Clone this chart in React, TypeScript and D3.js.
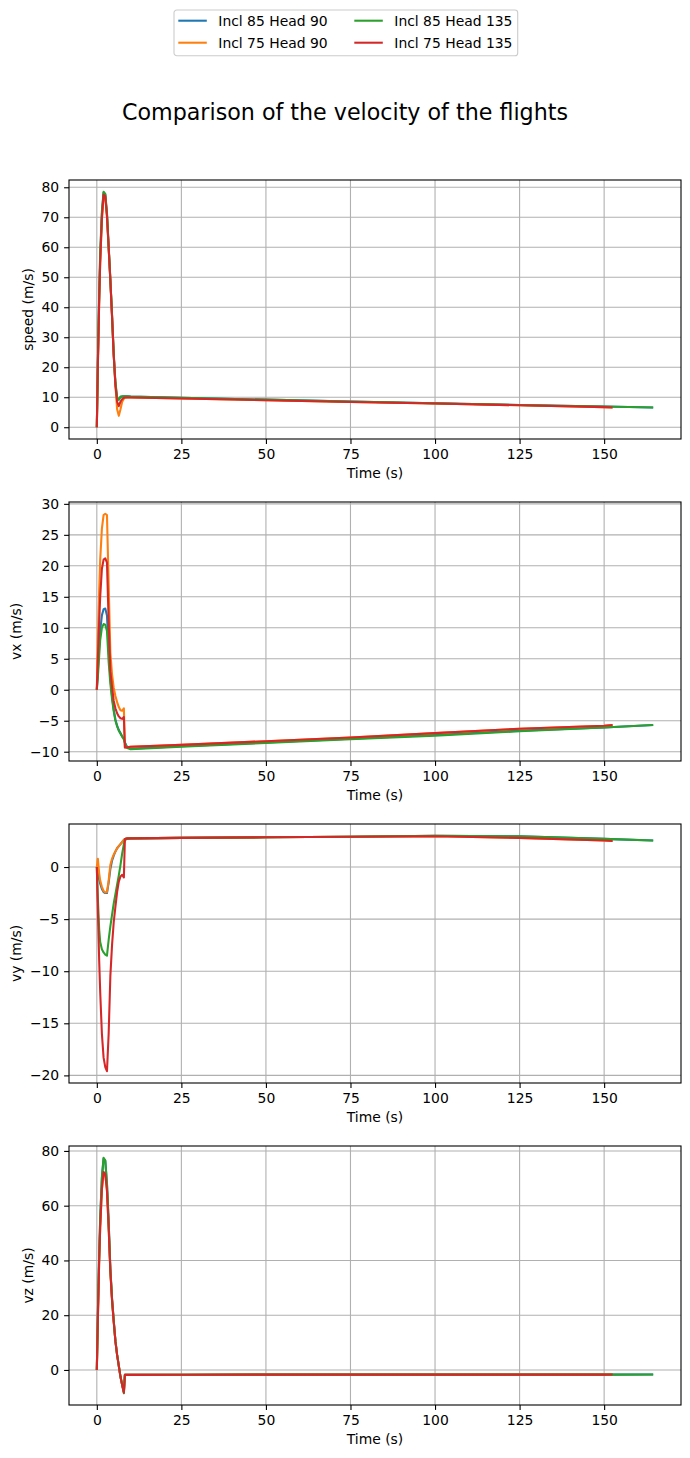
import { useEffect, useRef } from "react";
import * as d3 from "d3";

// Sample times (s): the Incl 85 flights last longer than the Incl 75 ones
const TIME_85 = [0, 0.3, 0.7, 1, 1.5, 2, 2.5, 3, 3.5, 4, 4.5, 5, 5.5, 6, 6.5, 7, 7.5, 8, 8.3, 9, 10, 25, 50, 75, 100, 125, 150, 164.5];
const TIME_75 = [0, 0.3, 0.7, 1, 1.5, 2, 2.5, 3, 3.5, 4, 4.5, 5, 5.5, 6, 6.5, 7, 7.5, 8, 8.3, 9, 10, 25, 50, 75, 100, 125, 150, 152.5];

const SERIES = ["Incl 85 Head 90", "Incl 75 Head 90", "Incl 85 Head 135", "Incl 75 Head 135"];
const COLORS = ["#1f77b4", "#ff7f0e", "#2ca02c", "#d62728"];

// speed (m/s)
const SPEED_85_90 = [0, 21, 44, 57, 71, 78.2, 77.6, 71, 60, 49, 37, 24, 14.5, 9.5, 9.2, 10, 10.2, 10.3, 10.3, 10.3, 10.2, 9.8, 9.2, 8.6, 8.0, 7.4, 6.9, 6.6];
const SPEED_75_90 = [0, 20, 42, 55, 69.5, 77, 76.5, 70, 59.5, 49, 37, 24, 14, 6, 3.8, 6, 8.5, 9.5, 9.8, 9.9, 9.9, 9.6, 9.0, 8.4, 7.9, 7.3, 6.7, 6.6];
const SPEED_85_135 = [0, 21.5, 45, 58, 72, 78.5, 77.8, 71.5, 60.5, 49.5, 37.5, 24.5, 15, 10, 9.2, 10.2, 10.3, 10.3, 10.3, 10.3, 10.2, 9.8, 9.2, 8.6, 8.0, 7.4, 6.9, 6.6];
const SPEED_75_135 = [0, 20, 42, 55, 69.5, 77.5, 77, 70.5, 60, 49, 37, 24, 14, 8.5, 7, 8.5, 9.4, 9.8, 9.9, 9.9, 9.9, 9.6, 9.0, 8.4, 7.9, 7.3, 6.7, 6.6];

// vx (m/s)
const VX_85_90 = [0, 3, 7, 9.5, 12, 13, 13.1, 12, 6.5, 2, -1, -3.2, -4.8, -5.8, -6.5, -7, -7.5, -7.9, -8.5, -9.3, -9.5, -9.1, -8.5, -7.9, -7.3, -6.6, -6.1, -5.7];
const VX_75_90 = [0, 8, 16, 21, 26, 28.2, 28.4, 28.2, 17, 6, 2.5, 0.3, -1, -2, -2.8, -3.3, -3.4, -3.0, -9.3, -9.3, -9.2, -8.9, -8.3, -7.7, -7.0, -6.3, -5.8, -5.7];
const VX_85_135 = [0, 2, 5.5, 8, 10, 10.6, 10.5, 9.5, 4.5, 1, -1.5, -3.5, -5, -5.9, -6.6, -7.1, -7.6, -8, -8.6, -9.4, -9.6, -9.2, -8.6, -8.0, -7.4, -6.7, -6.1, -5.7];
const VX_75_135 = [0, 5, 11, 15, 19.5, 21, 21.2, 20.5, 11, 3, 0.5, -1.8, -3, -3.8, -4.3, -4.6, -4.7, -4.4, -9.3, -9.3, -9.2, -8.9, -8.3, -7.7, -7.0, -6.3, -5.8, -5.7];

// vy (m/s)
const VY_85_90 = [0, -0.5, -1.2, -1.6, -2.1, -2.4, -2.5, -2.5, -1.5, -0.2, 0.6, 1.1, 1.5, 1.8, 2.0, 2.2, 2.4, 2.6, 2.7, 2.75, 2.75, 2.8, 2.85, 2.9, 3.0, 2.95, 2.7, 2.55];
const VY_75_90 = [0, 0.8, -0.6, -1.3, -1.9, -2.3, -2.45, -2.4, -1.3, 0.2, 0.8, 1.2, 1.5, 1.8, 2.0, 2.2, 2.4, 2.6, 2.7, 2.75, 2.75, 2.8, 2.85, 2.9, 2.95, 2.8, 2.55, 2.5];
const VY_85_135 = [0, -3, -6, -7.2, -7.9, -8.2, -8.4, -8.5, -7.0, -5.7, -4.6, -3.5, -2.6, -1.7, -0.8, 0.2, 1.3, 2.2, 2.6, 2.7, 2.75, 2.8, 2.85, 2.9, 3.0, 2.95, 2.7, 2.55];
const VY_75_135 = [0, -4, -9, -12, -16, -18.3, -19.2, -19.6, -16, -10.5, -7.5, -5.3, -3.8, -2.4, -1.4, -0.9, -0.75, -1.0, 2.7, 2.75, 2.75, 2.8, 2.85, 2.9, 2.95, 2.8, 2.55, 2.5];

// vz (m/s)
const VZ_85_90 = [0, 20, 42, 55, 70, 77.2, 76.4, 68, 54, 37, 26, 18, 10.5, 5.5, 1.5, -2.5, -5.5, -8.0, -1.8, -1.8, -1.8, -1.75, -1.7, -1.7, -1.7, -1.7, -1.7, -1.65];
const VZ_75_90 = [0, 18, 40, 52, 66, 72, 71.5, 65.5, 52, 36, 25.5, 17.5, 10.5, 5.5, 1.5, -2.5, -5.5, -8.0, -1.8, -1.8, -1.8, -1.75, -1.7, -1.7, -1.7, -1.7, -1.7, -1.65];
const VZ_85_135 = [0, 20.5, 42.5, 55.5, 70.5, 77.5, 76.6, 68, 54, 37, 26, 18, 10.5, 5.5, 1.5, -2.5, -5.5, -8.5, -1.8, -1.8, -1.8, -1.75, -1.7, -1.7, -1.7, -1.7, -1.7, -1.65];
const VZ_75_135 = [0, 18, 40, 52, 66, 72.3, 71.5, 65.5, 52, 36, 25.5, 17.5, 10.5, 5.5, 1.5, -2.5, -5.5, -8.3, -1.8, -1.8, -1.8, -1.75, -1.7, -1.7, -1.7, -1.7, -1.7, -1.65];

const X_TICKS = [0, 25, 50, 75, 100, 125, 150];
const SPEED_TICKS = [0, 10, 20, 30, 40, 50, 60, 70, 80];
const VX_TICKS = [-10, -5, 0, 5, 10, 15, 20, 25, 30];
const VY_TICKS = [-20, -15, -10, -5, 0];
const VZ_TICKS = [0, 20, 40, 60, 80];

const TITLE = "Comparison of the velocity of the flights";
const X_LABEL = "Time (s)";

const PANELS = [
  { label: "speed (m/s)", ticks: SPEED_TICKS, series: [SPEED_85_90, SPEED_75_90, SPEED_85_135, SPEED_75_135] },
  { label: "vx (m/s)", ticks: VX_TICKS, series: [VX_85_90, VX_75_90, VX_85_135, VX_75_135] },
  { label: "vy (m/s)", ticks: VY_TICKS, series: [VY_85_90, VY_75_90, VY_85_135, VY_75_135] },
  { label: "vz (m/s)", ticks: VZ_TICKS, series: [VZ_85_90, VZ_75_90, VZ_85_135, VZ_75_135] },
];

const W = 690;
const H = 1458;
const FONT = "DejaVu Sans, sans-serif";
const FS = 13.9;
const LEFT = 69;
const PLOT_W = 612;
const PLOT_H = 259;
const TOPS = [180, 502, 824, 1146];
const TICK = 4.9;
const LW = 1.1;

export default function App() {
  const svgRef = useRef<SVGSVGElement>(null);

  useEffect(() => {
    if (!svgRef.current) return;
    const svg = d3.select(svgRef.current);
    svg.selectAll("*").remove();

    const times = [TIME_85, TIME_75, TIME_85, TIME_75];
    const [t0, t1] = d3.extent(times.flat()) as [number, number];
    const tpad = (t1 - t0) * 0.05;
    const x = d3.scaleLinear().domain([t0 - tpad, t1 + tpad]).range([0, PLOT_W]);

    // Title
    svg
      .append("text")
      .attr("x", W / 2)
      .attr("y", 120)
      .attr("text-anchor", "middle")
      .attr("font-family", FONT)
      .attr("font-size", 22.2)
      .text(TITLE);

    // Legend
    const lg = svg.append("g").attr("transform", "translate(174,10)");
    lg.append("rect")
      .attr("width", 343.7)
      .attr("height", 45.7)
      .attr("rx", 2.8)
      .attr("fill", "white")
      .attr("fill-opacity", 0.8)
      .attr("stroke", "#cccccc")
      .attr("stroke-width", LW);
    SERIES.forEach((name, i) => {
      const col = Math.floor(i / 2);
      const row = i % 2;
      const ox = 4.3 + col * 176;
      const oy = 10.7 + row * 22;
      lg.append("line")
        .attr("x1", ox)
        .attr("x2", ox + 28.5)
        .attr("y1", oy)
        .attr("y2", oy)
        .attr("stroke", COLORS[i])
        .attr("stroke-width", 2.08);
      lg.append("text")
        .attr("x", ox + 40)
        .attr("y", oy + 5.2)
        .attr("font-family", FONT)
        .attr("font-size", FS)
        .text(name);
    });

    PANELS.forEach((p, i) => {
      const g = svg.append("g").attr("transform", `translate(${LEFT},${TOPS[i]})`);
      const [v0, v1] = d3.extent(p.series.flat()) as [number, number];
      const vpad = (v1 - v0) * 0.05;
      const y = d3.scaleLinear().domain([v0 - vpad, v1 + vpad]).range([PLOT_H, 0]);

      // Grid
      g.append("g")
        .selectAll("line")
        .data(X_TICKS)
        .join("line")
        .attr("x1", (d) => x(d))
        .attr("x2", (d) => x(d))
        .attr("y1", 0)
        .attr("y2", PLOT_H)
        .attr("stroke", "#b0b0b0")
        .attr("stroke-width", LW);
      g.append("g")
        .selectAll("line")
        .data(p.ticks)
        .join("line")
        .attr("x1", 0)
        .attr("x2", PLOT_W)
        .attr("y1", (d) => y(d))
        .attr("y2", (d) => y(d))
        .attr("stroke", "#b0b0b0")
        .attr("stroke-width", LW);

      // Lines
      const clipId = `clip-${i}`;
      g.append("clipPath")
        .attr("id", clipId)
        .append("rect")
        .attr("width", PLOT_W)
        .attr("height", PLOT_H);
      const line = d3
        .line<[number, number]>()
        .x((d) => x(d[0]))
        .y((d) => y(d[1]));
      p.series.forEach((vals, k) => {
        const pts = times[k].map((t, j) => [t, vals[j]] as [number, number]);
        g.append("path")
          .datum(pts)
          .attr("clip-path", `url(#${clipId})`)
          .attr("fill", "none")
          .attr("stroke", COLORS[k])
          .attr("stroke-width", 2.08)
          .attr("stroke-linejoin", "round")
          .attr("d", line);
      });

      // Axes
      const xa = g
        .append("g")
        .attr("transform", `translate(0,${PLOT_H})`)
        .call(d3.axisBottom(x).tickValues(X_TICKS).tickFormat(d3.format("d")).tickSize(TICK).tickPadding(TICK).tickSizeOuter(0));
      const ya = g
        .append("g")
        .call(d3.axisLeft(y).tickValues(p.ticks).tickFormat(d3.format("d")).tickSize(TICK).tickPadding(TICK).tickSizeOuter(0));
      [xa, ya].forEach((a) => {
        a.attr("font-family", FONT).attr("font-size", FS);
        a.select(".domain").remove();
        a.selectAll(".tick line").attr("stroke", "black").attr("stroke-width", LW);
        a.selectAll(".tick text").attr("fill", "black");
      });

      // Spines
      g.append("rect")
        .attr("width", PLOT_W)
        .attr("height", PLOT_H)
        .attr("fill", "none")
        .attr("stroke", "black")
        .attr("stroke-width", LW);

      // Axis labels
      g.append("text")
        .attr("x", PLOT_W / 2)
        .attr("y", PLOT_H + 39.3)
        .attr("text-anchor", "middle")
        .attr("font-family", FONT)
        .attr("font-size", FS)
        .text(X_LABEL);

      const tickW = d3.max(
        ya.selectAll<SVGTextElement, number>(".tick text").nodes(),
        (n) => n.getBBox().width
      ) ?? 18;
      const bx = -(TICK * 2 + tickW + 5.6 + 3.3);
      g.append("text")
        .attr("transform", `translate(${bx},${PLOT_H / 2}) rotate(-90)`)
        .attr("text-anchor", "middle")
        .attr("font-family", FONT)
        .attr("font-size", FS)
        .text(p.label);
    });
  }, []);

  return (
    <svg
      ref={svgRef}
      width={W}
      height={H}
      style={{ position: "absolute", left: 0, top: 0, background: "white" }}
    />
  );
}
